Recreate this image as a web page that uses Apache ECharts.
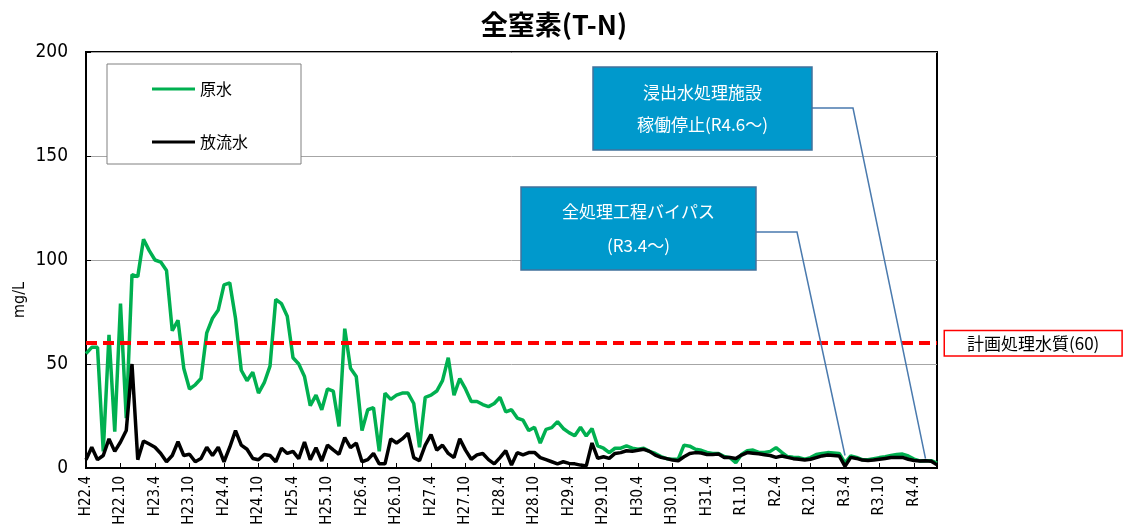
<!DOCTYPE html>
<html><head><meta charset="utf-8">
<script src="https://cdn.jsdelivr.net/npm/echarts@6/dist/echarts.min.js"></script>
<style>html,body{margin:0;padding:0;background:#fff}#c{width:1123px;height:530px}</style>
</head><body><div id="c"></div>
<script>
// ---- data ----
const categories = [
"H22.4","H22.5","H22.6","H22.7","H22.8","H22.9","H22.10","H22.11","H22.12",
"H23.1","H23.2","H23.3","H23.4","H23.5","H23.6","H23.7","H23.8","H23.9","H23.10","H23.11","H23.12",
"H24.1","H24.2","H24.3","H24.4","H24.5","H24.6","H24.7","H24.8","H24.9","H24.10","H24.11","H24.12",
"H25.1","H25.2","H25.3","H25.4","H25.5","H25.6","H25.7","H25.8","H25.9","H25.10","H25.11","H25.12",
"H26.1","H26.2","H26.3","H26.4","H26.5","H26.6","H26.7","H26.8","H26.9","H26.10","H26.11","H26.12",
"H27.1","H27.2","H27.3","H27.4","H27.5","H27.6","H27.7","H27.8","H27.9","H27.10","H27.11","H27.12",
"H28.1","H28.2","H28.3","H28.4","H28.5","H28.6","H28.7","H28.8","H28.9","H28.10","H28.11","H28.12",
"H29.1","H29.2","H29.3","H29.4","H29.5","H29.6","H29.7","H29.8","H29.9","H29.10","H29.11","H29.12",
"H30.1","H30.2","H30.3","H30.4","H30.5","H30.6","H30.7","H30.8","H30.9","H30.10","H30.11","H30.12",
"H31.1","H31.2","H31.3","H31.4",
"R1.5","R1.6","R1.7","R1.8","R1.9","R1.10","R1.11","R1.12",
"R2.1","R2.2","R2.3","R2.4","R2.5","R2.6","R2.7","R2.8","R2.9","R2.10","R2.11","R2.12",
"R3.1","R3.2","R3.3","R3.4","R3.5","R3.6","R3.7","R3.8","R3.9","R3.10","R3.11","R3.12",
"R4.1","R4.2","R4.3","R4.4","R4.5","R4.6","R4.7","R4.8"
];
// 原水 (raw water) mg/L
const rawWater = [
55,58,58,8,64,17.5,79,24,93,92,110,104.5,100,99,95,66,71,48,38,40,
43,65,72,76,88,89,72,47,42,46,36,41,49,81,79,73,53,50,44,30,
35,28,38,37,20,67,48,44,18,28,29,8,36,33,35,36,36,31,10,34,
35,37,42,53,35,43,38,32,32,30.5,29.5,31,34,27,28,24,23,18,19.6,12,
18.6,19.4,22.3,19,17,15.5,19.6,15.4,19,10.6,9.5,7.4,9.5,9.5,10.6,9.5,9,9.5,8,7,
5.5,4.5,4.2,4.2,11,10.5,9,8.5,7.5,7,7,5.5,5,2.5,6.5,8.3,8.6,7.5,7.5,8,
9.8,7.5,5.5,5.2,5,4.2,5,6.5,7,7.4,7.2,7,2.5,5.8,5.1,4,4,4.5,5,5.4,
6,6.5,6.7,5.8,4.3,3.4,3.5,3.5,2.3
];
// 放流水 (effluent) mg/L
const effluent = [
4,10,4,6,14,8,12.5,18,50,4,13,11.5,10,7,3,6,12.6,6,6.6,3,
4.6,10,6,10,3,10,18,11,9,4.6,4,6.5,6,3,9.5,7,8,4.5,12.5,4,
9.7,3.4,11,8.7,6.6,14.6,9.8,12,3,4,7,2,2,14,12,14,16.7,5,3.5,11,
16,8.6,11,7,5,14,8.6,4.2,6.3,7,4,2,5,8.3,1.4,7.4,6.3,7.4,7.5,5,
4,3,2,3,2.2,2,1.4,1,12,4.6,5.4,4.6,7,7.4,8.3,8,8.5,9,8,6.2,
5.1,4.5,3.8,3.5,5.4,7,7.4,7.2,6.5,6.5,6.7,5.1,5,4.6,6.2,7.4,7.1,6.8,6.4,6,
5.1,5.8,5.1,4.5,4.2,3.8,4.2,5,5.8,6.2,6,5.8,0.8,5.1,4.6,3.8,3.6,3.8,4.2,4.6,
5,5.1,5.1,4.2,3.6,3.4,3.5,3.2,1.5
];
const seriesNames = ["原水", "放流水"];
const planLimit = 60;
const planLabel = "計画処理水質(60)";
const yMin = 0, yMax = 200, yStep = 50;
const noteTexts = ["浸出水処理施設\n稼働停止(R4.6～)", "全処理工程バイパス\n(R3.4～)"];
const noteTargets = ["R4.6", "R3.4"];
const noteTargetValues = [4.5, 6];

// ---- chart ----
const JP = '"Noto Sans CJK JP", "Noto Sans", sans-serif';
const NUM = '"DejaVu Sans Condensed", "Liberation Sans Narrow", "DejaVu Sans", sans-serif';
const chart = echarts.init(document.getElementById('c'), null, {renderer: 'canvas'});

const option = {
  animation: false,
  backgroundColor: '#fff',
  title: {
    text: '全窒素(T-N)', left: 549, top: 6, textAlign: 'center',
    textStyle: {fontFamily: JP, fontSize: 27, fontWeight: 'bold', color: '#000'}
  },
  grid: {left: 86, right: 186, top: 52, bottom: 62, show: true, borderColor: '#000', borderWidth: 2, backgroundColor: 'transparent'},
  legend: {
    data: seriesNames, orient: 'vertical', left: 107, top: 64,
    padding: [17, 53, 14, 45], itemGap: 37, itemWidth: 43, itemHeight: 3,
    icon: 'rect',
    backgroundColor: '#fff', borderColor: '#808080', borderWidth: 1,
    textStyle: {fontFamily: JP, fontSize: 16, color: '#000'}
  },
  xAxis: {
    type: 'category', data: categories, boundaryGap: false,
    axisLine: {lineStyle: {color: '#000', width: 2}},
    axisTick: {show: true, interval: 5, inside: true, length: 5, lineStyle: {color: '#000', width: 1}},
    axisLabel: {interval: 5, rotate: 90, fontSize: 15, color: '#000', fontFamily: NUM, margin: 8},
    splitLine: {show: false}
  },
  yAxis: {
    type: 'value', min: yMin, max: yMax, interval: yStep,
    axisLine: {show: true, lineStyle: {color: '#000', width: 2}},
    axisTick: {show: true, inside: true, length: 5, lineStyle: {color: '#000'}},
    axisLabel: {fontSize: 19, color: '#000', fontFamily: NUM, margin: 18},
    splitLine: {lineStyle: {color: '#A6A6A6', width: 1}}
  },
  series: [
    {
      name: seriesNames[0], type: 'line', data: rawWater, symbol: 'none',
      lineStyle: {color: '#00B050', width: 3.5}, itemStyle: {color: '#00B050'}, z: 2,
      markLine: {
        symbol: 'none', silent: true, data: [{yAxis: planLimit}],
        lineStyle: {color: '#FF0000', type: [11, 6], width: 4},
        label: {
          show: true, position: 'end', formatter: planLabel, distance: 8,
          fontFamily: JP, fontSize: 17, color: '#000', backgroundColor: '#fff',
          borderColor: '#FF0000', borderWidth: 1.5, padding: [4, 22, 3, 22]
        }
      }
    },
    {
      name: seriesNames[1], type: 'line', data: effluent, symbol: 'none',
      lineStyle: {color: '#000', width: 3.5}, itemStyle: {color: '#000'}, z: 3
    }
  ],
  graphic: [
    {type: 'text', left: 12, top: 282, rotation: Math.PI / 2,
     style: {text: 'mg/L', fontFamily: NUM, fontSize: 16, fill: '#000'}}
  ]
};
chart.setOption(option);

// annotation boxes and leader lines, anchored to data positions
const boxes = [
  {x: 593, y: 67, w: 219, h: 83, lh: 32, joinY: 108, elbowX: 853},
  {x: 521, y: 187, w: 235, h: 83, lh: 34, joinY: 232, elbowX: 797}
];
const g = [];
boxes.forEach((b, i) => {
  const p = chart.convertToPixel({gridIndex: 0}, [noteTargets[i], noteTargetValues[i]]);
  g.push({type: 'polyline', z: 50, silent: true,
    shape: {points: [[b.x + b.w, b.joinY], [b.elbowX, b.joinY], [p[0], p[1]]]},
    style: {stroke: '#4A7AAE', lineWidth: 1.5, fill: null}});
  g.push({type: 'rect', z: 51, silent: true,
    shape: {x: b.x, y: b.y, width: b.w, height: b.h},
    style: {fill: '#0099CC', stroke: '#41719C', lineWidth: 1.5}});
  g.push({type: 'text', z: 52, silent: true, x: b.x + b.w / 2, y: b.y + b.h / 2,
    style: {text: noteTexts[i], fontFamily: JP, fontSize: 17, fill: '#fff',
      align: 'center', verticalAlign: 'middle', lineHeight: b.lh}});
});
chart.setOption({graphic: option.graphic.concat(g)});
</script>
</body></html>
